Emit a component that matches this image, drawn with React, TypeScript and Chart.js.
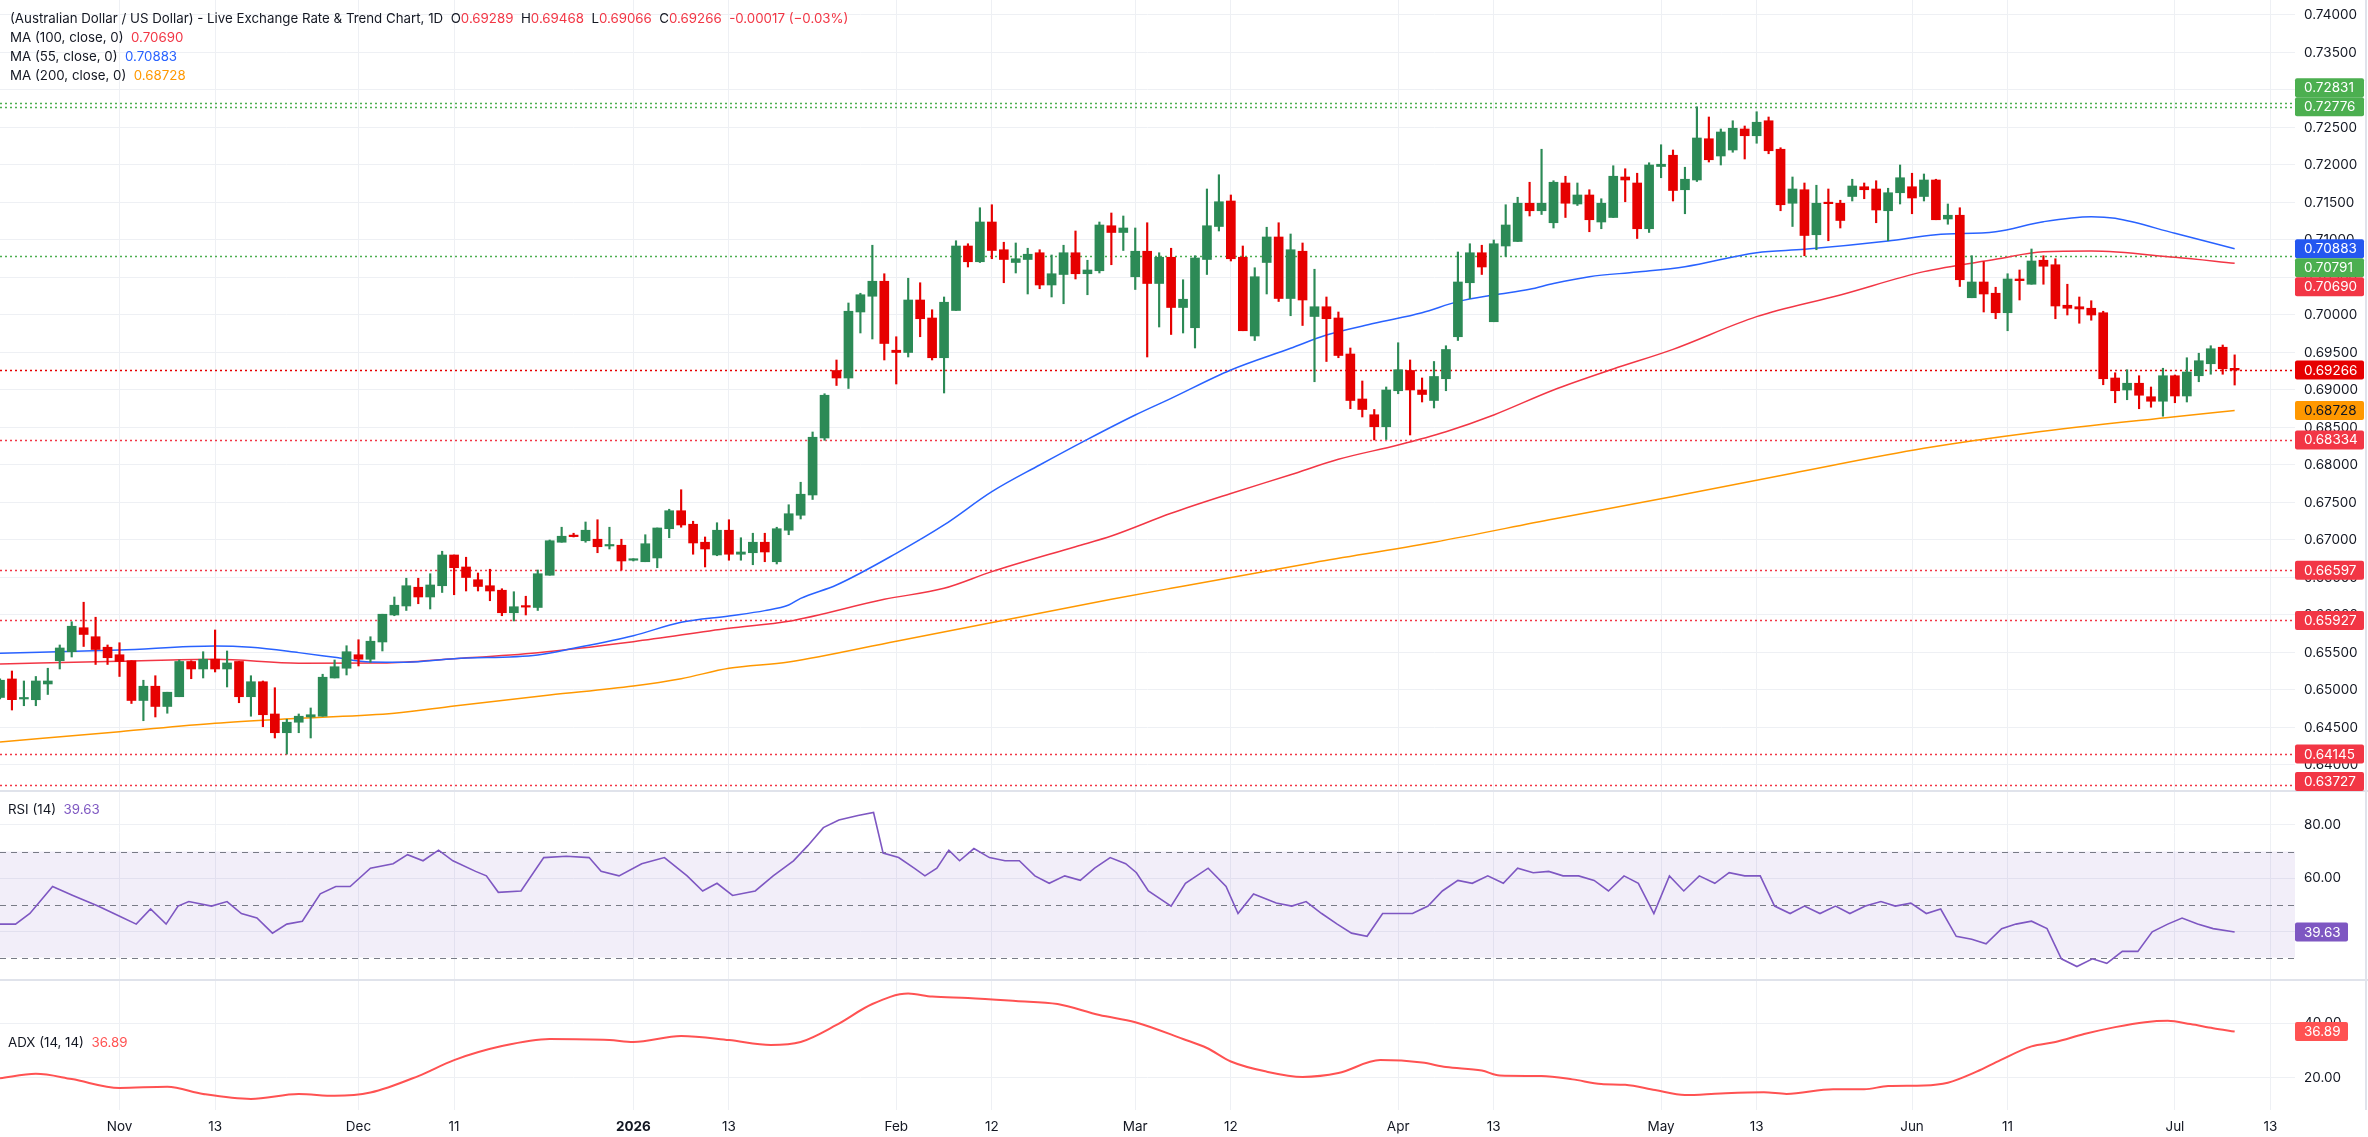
import React, { useEffect, useRef } from 'react';
import { Chart, registerables } from 'chart.js';
Chart.register(...registerables);

// Daily candles, one per weekday, first candle 2025-10-20, last 2026-07-08
const opens = [
  0.6490, 0.65147, 0.6488, 0.6487, 0.6508, 0.6539, 0.6551, 0.6583, 0.6571, 0.6557,
  0.6547, 0.6539, 0.6486, 0.6505, 0.6478, 0.6491, 0.6538, 0.6528, 0.6541, 0.6528,
  0.6538, 0.6491, 0.6511, 0.6468, 0.6443, 0.6457, 0.6464, 0.6465, 0.6516, 0.6529,
  0.6547, 0.6541, 0.6564, 0.6600, 0.6612, 0.6637, 0.6624, 0.6639, 0.6680, 0.6664,
  0.6647, 0.6639, 0.6633, 0.6603, 0.6611, 0.6610, 0.6653, 0.6697, 0.6705, 0.6699,
  0.6701, 0.6692, 0.6693, 0.6673, 0.6671, 0.6676, 0.6715, 0.6739, 0.6721, 0.6697,
  0.6680, 0.6713, 0.6681, 0.6683, 0.6697, 0.6671, 0.6713, 0.6733, 0.6760, 0.6836,
  0.6926, 0.6916, 0.7004, 0.7025, 0.7045, 0.6953, 0.6950, 0.7020, 0.6996, 0.6943,
  0.7006, 0.7092, 0.7071, 0.7124, 0.7087, 0.7070, 0.7074, 0.7083, 0.7040, 0.7054,
  0.7083, 0.7055, 0.7059, 0.7119, 0.7110, 0.7051, 0.7085, 0.7042, 0.7077, 0.7010,
  0.6983, 0.7074, 0.7118, 0.7152, 0.7077, 0.6972, 0.7070, 0.7104, 0.7022, 0.7085,
  0.6998, 0.7011, 0.6996, 0.6948, 0.6888, 0.6867, 0.6851, 0.6899, 0.6926, 0.6900,
  0.6886, 0.6915, 0.6971, 0.7043, 0.7083, 0.6991, 0.7092, 0.7098, 0.7149, 0.7139,
  0.7123, 0.7176, 0.7148, 0.7160, 0.7124, 0.7130, 0.7184, 0.7176, 0.7115, 0.7198,
  0.7213, 0.7167, 0.7180, 0.7235, 0.7212, 0.7220, 0.7248, 0.7239, 0.7259, 0.7221,
  0.7149, 0.7167, 0.7107, 0.7149, 0.7149, 0.7158, 0.7171, 0.7168, 0.7139, 0.7163,
  0.7171, 0.7158, 0.7180, 0.7128, 0.7133, 0.7023, 0.7044, 0.7029, 0.7003, 0.7048,
  0.7041, 0.7073, 0.7067, 0.7013, 0.7011, 0.7009, 0.7003, 0.6916, 0.6900, 0.6909,
  0.6891, 0.6885, 0.6919, 0.6892, 0.6919, 0.6935, 0.6957, 0.69289
];
const highs = [
  0.6515, 0.65253, 0.6512, 0.6518, 0.6529, 0.6560, 0.6591, 0.6617, 0.6597, 0.6560,
  0.6563, 0.6539, 0.6513, 0.6519, 0.6497, 0.6540, 0.6539, 0.6551, 0.6580, 0.6552,
  0.6538, 0.6519, 0.6512, 0.6503, 0.6461, 0.6468, 0.6476, 0.6521, 0.6540, 0.6559,
  0.6567, 0.6571, 0.6601, 0.6624, 0.6649, 0.6649, 0.6655, 0.6685, 0.6680, 0.6677,
  0.6656, 0.6661, 0.6635, 0.6631, 0.6625, 0.6660, 0.6700, 0.6717, 0.6709, 0.6724,
  0.6727, 0.6717, 0.6701, 0.6675, 0.6707, 0.6716, 0.6741, 0.6767, 0.6725, 0.6704,
  0.6723, 0.6727, 0.6703, 0.6709, 0.6709, 0.6717, 0.6747, 0.6777, 0.6844, 0.6895,
  0.6940, 0.7016, 0.7029, 0.7093, 0.7055, 0.6971, 0.7049, 0.7043, 0.7007, 0.7024,
  0.7099, 0.7095, 0.7143, 0.7147, 0.7097, 0.7096, 0.7089, 0.7087, 0.7080, 0.7093,
  0.7112, 0.7073, 0.7124, 0.7136, 0.7132, 0.7116, 0.7123, 0.7083, 0.7089, 0.7047,
  0.7079, 0.7168, 0.7187, 0.7160, 0.7092, 0.7063, 0.7117, 0.7123, 0.7108, 0.7096,
  0.7061, 0.7024, 0.7004, 0.6956, 0.6912, 0.6874, 0.6904, 0.6963, 0.6940, 0.6916,
  0.6938, 0.6959, 0.7084, 0.7095, 0.7093, 0.7100, 0.7147, 0.7157, 0.7177, 0.7221,
  0.7179, 0.7185, 0.7176, 0.7167, 0.7155, 0.7199, 0.7195, 0.7189, 0.7203, 0.7227,
  0.7220, 0.7197, 0.72776, 0.7264, 0.7248, 0.7259, 0.7252, 0.7271, 0.7264, 0.7223,
  0.7184, 0.7176, 0.7173, 0.7168, 0.7153, 0.7181, 0.7176, 0.7179, 0.7169, 0.7200,
  0.7189, 0.7188, 0.7181, 0.7148, 0.7143, 0.7079, 0.7071, 0.7037, 0.7055, 0.7060,
  0.7088, 0.7079, 0.7075, 0.7041, 0.7024, 0.7019, 0.7005, 0.6923, 0.6927, 0.6919,
  0.6904, 0.6929, 0.6920, 0.6943, 0.6949, 0.6959, 0.6960, 0.69468
];
const lows = [
  0.6488, 0.64733, 0.6479, 0.6479, 0.6494, 0.6528, 0.6544, 0.6558, 0.6534, 0.6534,
  0.6518, 0.6482, 0.6459, 0.6464, 0.6469, 0.6491, 0.6515, 0.6516, 0.6524, 0.6504,
  0.6483, 0.6465, 0.6451, 0.6436, 0.64145, 0.6443, 0.6436, 0.6465, 0.6516, 0.6520,
  0.6532, 0.6537, 0.6552, 0.6599, 0.6606, 0.6615, 0.6608, 0.6630, 0.6627, 0.6632,
  0.6632, 0.6619, 0.6599, 0.6592, 0.6600, 0.6606, 0.6653, 0.6697, 0.6704, 0.6697,
  0.6683, 0.6688, 0.6660, 0.6672, 0.6671, 0.6663, 0.6703, 0.6717, 0.6681, 0.6664,
  0.6679, 0.6673, 0.6673, 0.6667, 0.6671, 0.6668, 0.6707, 0.6728, 0.6754, 0.6833,
  0.6906, 0.6902, 0.6976, 0.6968, 0.6940, 0.6908, 0.6944, 0.6971, 0.6940, 0.6896,
  0.7006, 0.7064, 0.7070, 0.7075, 0.7043, 0.7056, 0.7028, 0.7035, 0.7024, 0.7015,
  0.7048, 0.7027, 0.7056, 0.7067, 0.7086, 0.7034, 0.6944, 0.6984, 0.6974, 0.6976,
  0.6956, 0.7054, 0.7112, 0.7072, 0.6979, 0.6966, 0.7028, 0.7018, 0.6999, 0.6986,
  0.6911, 0.6938, 0.6943, 0.6875, 0.6864, 0.68334, 0.6834, 0.6895, 0.6840, 0.6884,
  0.6876, 0.6899, 0.6966, 0.7022, 0.7054, 0.6991, 0.7078, 0.7098, 0.7132, 0.7134,
  0.7116, 0.7130, 0.7146, 0.7111, 0.7115, 0.7130, 0.7151, 0.7102, 0.7110, 0.7183,
  0.7152, 0.7135, 0.7178, 0.7204, 0.7200, 0.7217, 0.7208, 0.7229, 0.7215, 0.7139,
  0.7118, 0.7079, 0.7087, 0.7099, 0.7116, 0.7152, 0.7155, 0.7123, 0.7099, 0.7148,
  0.7135, 0.7152, 0.7127, 0.7121, 0.7038, 0.7023, 0.7004, 0.6995, 0.6979, 0.7020,
  0.7041, 0.7041, 0.6995, 0.7000, 0.6989, 0.6993, 0.6907, 0.6883, 0.6887, 0.6875,
  0.6877, 0.6865, 0.6883, 0.6884, 0.6911, 0.6921, 0.6921, 0.69066
];
const closes = [
  0.6513, 0.64871, 0.6489, 0.6512, 0.6512, 0.6556, 0.6585, 0.6574, 0.6554, 0.6543,
  0.6538, 0.6486, 0.6505, 0.6478, 0.6497, 0.6538, 0.6528, 0.6541, 0.6528, 0.6536,
  0.6491, 0.6511, 0.6467, 0.6443, 0.6457, 0.6465, 0.6467, 0.6517, 0.6531, 0.6551,
  0.6541, 0.6565, 0.6601, 0.6613, 0.6639, 0.6624, 0.6640, 0.6680, 0.6663, 0.6650,
  0.6638, 0.6632, 0.6603, 0.6611, 0.66105, 0.6655, 0.6699, 0.6705, 0.67045, 0.6713,
  0.6691, 0.6693, 0.6672, 0.6674, 0.6695, 0.6716, 0.6739, 0.6720, 0.6696, 0.6688,
  0.6713, 0.6681, 0.6684, 0.6697, 0.6684, 0.6715, 0.6735, 0.6761, 0.6837, 0.6893,
  0.6916, 0.7005, 0.7027, 0.7045, 0.6962, 0.6950, 0.7020, 0.6995, 0.6943, 0.7017,
  0.7092, 0.7071, 0.7124, 0.7086, 0.7074, 0.7075, 0.7081, 0.7040, 0.7055, 0.7083,
  0.7055, 0.7060, 0.7120, 0.7110, 0.7116, 0.7085, 0.7042, 0.7077, 0.7010, 0.7021,
  0.7076, 0.7119, 0.7151, 0.7075, 0.6979, 0.7051, 0.7104, 0.7022, 0.7087, 0.7020,
  0.7011, 0.6995, 0.6946, 0.6886, 0.6874, 0.6851, 0.6900, 0.6927, 0.6900, 0.6894,
  0.6918, 0.6954, 0.7044, 0.7083, 0.7064, 0.7095, 0.7120, 0.7149, 0.7139, 0.7149,
  0.7177, 0.7149, 0.7160, 0.7127, 0.7149, 0.7185, 0.7180, 0.7115, 0.7200, 0.7201,
  0.7166, 0.7181, 0.7236, 0.7207, 0.7244, 0.7249, 0.7239, 0.7257, 0.7219, 0.7147,
  0.7168, 0.7106, 0.7149, 0.71484, 0.7126, 0.7172, 0.7167, 0.7140, 0.7163, 0.7183,
  0.7156, 0.7180, 0.7127, 0.7133, 0.7047, 0.7044, 0.7028, 0.7003, 0.7048, 0.70458,
  0.7072, 0.7065, 0.7012, 0.7009, 0.7008, 0.7000, 0.6915, 0.6899, 0.6909, 0.6893,
  0.6885, 0.6919, 0.6892, 0.6924, 0.6939, 0.6955, 0.69283, 0.69266
];

// Moving averages: [candle index, value]
const ma55Pts = [
  [0, 0.65489], [10, 0.65533], [18, 0.65587], [21, 0.65569], [25, 0.65498], [28, 0.65436],
  [31, 0.65373], [34, 0.6537], [38, 0.65418], [45, 0.65467], [48, 0.65556], [53, 0.65724],
  [57, 0.65902], [61, 0.65987], [64, 0.66058], [66, 0.66133], [67, 0.66222], [70, 0.664],
  [75, 0.66822], [79, 0.672], [83, 0.67644], [87, 0.68], [91, 0.68342], [95, 0.68667],
  [98, 0.68889], [103, 0.69267], [108, 0.69556], [111, 0.69733], [115, 0.69889], [119, 0.70031],
  [122, 0.70178], [125, 0.70267], [128, 0.70342], [130, 0.7042], [133, 0.70511], [137, 0.70573],
  [141, 0.70644], [147, 0.70831], [151, 0.70876], [158, 0.70987], [162, 0.7107], [167, 0.71111],
  [171, 0.71244], [175, 0.71311], [177, 0.71289], [182, 0.71089], [187, 0.70883]
];
const ma100Pts = [
  [0, 0.65347], [10, 0.65382], [18, 0.65409], [25, 0.65356], [32, 0.6536], [38, 0.65418],
  [45, 0.65498], [53, 0.65644], [61, 0.65822], [66, 0.65916], [74, 0.66209], [79, 0.66356],
  [83, 0.66578], [90, 0.66911], [93, 0.67053], [98, 0.67356], [103, 0.6762], [108, 0.6787],
  [112, 0.68076], [117, 0.68267], [121, 0.68444], [125, 0.68667], [130, 0.69], [135, 0.6928],
  [140, 0.69542], [147, 0.69978], [154, 0.70267], [161, 0.70578], [167, 0.70742], [171, 0.70844],
  [175, 0.70853], [182, 0.70769], [187, 0.7069]
];
const ma200Pts = [
  [0, 0.64307], [10, 0.64444], [18, 0.64556], [25, 0.64622], [33, 0.6469], [38, 0.64787],
  [46, 0.64933], [53, 0.65053], [57, 0.65151], [61, 0.65289], [66, 0.65373], [75, 0.6565],
  [84, 0.6593], [93, 0.66209], [98, 0.66356], [110, 0.667], [120, 0.6697], [130, 0.6728],
  [140, 0.6758], [150, 0.6789], [161, 0.68222], [170, 0.6843], [182, 0.68644], [187, 0.68728]
];

const rsiPts = [
  [0, 42.6], [1.3, 42.6], [2.5, 46.6], [4.4, 56.8], [6.1, 53.4], [8.2, 49.4], [10.1, 45.4],
  [11.4, 42.6], [12.6, 48.3], [13.9, 42.6], [14.9, 49.4], [15.8, 51.1], [17.7, 49.4], [19, 51.1],
  [20.2, 46.6], [21.5, 44.9], [22.8, 39.2], [24, 42.6], [25.3, 43.7], [26.8, 54], [28.1, 56.8],
  [29.3, 56.8], [31, 63.7], [32.9, 65.4], [34.1, 68.8], [35.4, 66.5], [36.7, 70.5], [37.9, 66.5],
  [39.8, 62.5], [40.7, 60.8], [41.7, 54.6], [43.6, 55.1], [45.5, 67.7], [47.4, 68.2], [49.3, 67.7],
  [50.3, 62.5], [51.8, 60.8], [53.7, 65.4], [55.6, 67.7], [57.5, 60.8], [58.8, 55.1], [60, 58],
  [61.3, 53.4], [63.2, 55.1], [64.7, 60.8], [66.4, 66.5], [67.6, 72.2], [68.9, 79], [70.2, 81.9],
  [71.8, 83.6], [73.1, 84.7], [73.9, 69.4], [75.2, 67.7], [76.5, 63.7], [77.4, 60.8], [78.4, 63.7],
  [79.4, 70.5], [80.3, 66.5], [81.5, 71.1], [82.8, 67.7], [84.1, 66.5], [85.3, 66.5], [86.6, 60.8],
  [87.8, 58], [89.1, 60.8], [90.4, 59.1], [91.6, 63.7], [92.9, 67.7], [94.2, 65.4], [95.1, 62],
  [96.1, 55.1], [98, 49.4], [99.2, 58], [101.1, 63.7], [102.6, 56.8], [103.6, 46.6], [104.9, 54],
  [106.8, 50.6], [108.1, 49.4], [109.3, 51.1], [110.6, 46.6], [111.9, 42.6], [113.1, 39.2],
  [114.4, 38], [115.7, 46.6], [116.9, 46.6], [118.2, 46.6], [119.5, 49.4], [120.7, 55.1],
  [122, 59.1], [123.2, 58], [124.5, 60.8], [125.8, 58], [127, 63.7], [128.3, 62], [129.6, 62.5],
  [130.8, 60.8], [132.1, 60.8], [133.4, 59.1], [134.6, 55.1], [135.9, 60.8], [137.1, 58],
  [138.4, 46.6], [139.7, 60.8], [140.9, 55.1], [142.2, 60.8], [143.5, 58], [144.7, 62],
  [146, 60.8], [147.3, 60.8], [148.5, 49.4], [149.8, 46.6], [151, 49.4], [152.3, 46.6],
  [153.6, 49.4], [154.8, 46.6], [156.1, 49.4], [157.4, 51.1], [158.6, 49.4], [159.9, 50.5],
  [161.2, 46.6], [162.4, 48.3], [163.7, 38], [165, 36.9], [166.2, 35.2], [167.5, 40.9],
  [168.7, 42.6], [170, 43.7], [171.3, 40.9], [172.5, 29.5], [173.8, 26.6], [175.1, 29.5],
  [176.3, 27.8], [177.6, 32.3], [178.9, 32.3], [180.1, 39.7], [181.4, 42.6], [182.6, 44.9],
  [183.9, 42.6], [185.2, 40.9], [187, 39.63]
];

const adxPts = [
  [0, 19.9], [3, 21.5], [6, 19.6], [10, 16.4], [14, 16.8], [17, 14.2], [21, 12.4], [25, 14.2],
  [28, 13.5], [31, 14.7], [35, 20.7], [38, 26.5], [42, 31.6], [46, 34.2], [51, 33.8], [53, 33.1],
  [57, 35.3], [61, 33.8], [64.5, 32], [67, 33.1], [70, 39.3], [73, 46.9], [76, 50.7], [78, 49.6],
  [81, 49.1], [85, 48], [88.5, 46.9], [92, 42.9], [95, 40.3], [99, 34.2], [101, 30.9], [103, 26],
  [106, 22.3], [109, 20.4], [112, 21.8], [115.5, 26.5], [119, 25.6], [121, 24], [124, 22.7],
  [125.5, 20.9], [129, 20.7], [131.6, 19.5], [134, 17.8], [136, 17.5], [138.5, 15.6], [141, 13.8],
  [144, 14.4], [147.6, 14.8], [149.5, 14.2], [153.4, 15.9], [156, 15.9], [158, 17.1], [161, 17.3],
  [163, 18.3], [165.4, 22.3], [167.4, 26.5], [170, 31.5], [172, 33.1], [174.4, 36], [177, 38.5],
  [179.5, 40.3], [181.4, 40.8], [183.3, 39.6], [185.2, 38.1], [187, 36.89]
];

// x-axis ticks (candle index) and their labels
const tickPos = [10, 18, 30, 38, 53, 61, 75, 83, 95, 103, 117, 125, 139, 147, 160, 168, 182, 190];
const tickText = ['Nov', '13', 'Dec', '11', '2026', '13', 'Feb', '12', 'Mar', '12', 'Apr', '13', 'May', '13', 'Jun', '11', 'Jul', '13'];
const priceTicks = [0.64, 0.645, 0.65, 0.655, 0.66, 0.665, 0.67, 0.675, 0.68, 0.685, 0.69, 0.695, 0.7, 0.705, 0.71, 0.715, 0.72, 0.725, 0.73, 0.735, 0.74];
const rsiTicks = [40, 60, 80];
const adxTicks = [20, 40];
const rsiBand = [70, 50, 30];

// right-axis markers (in placement priority order)
const markerValues = [0.69266, 0.72776, 0.72831, 0.70883, 0.70791, 0.7069, 0.68728, 0.68334, 0.66597, 0.65927, 0.64145, 0.63727];
const markerKinds = ['last', 'up', 'up', 'ma55', 'up', 'ma100', 'ma200', 'down', 'down', 'down', 'down', 'down'];
const rsiLast = 39.63;
const adxLast = 36.89;

const header = {
  title: '(Australian Dollar / US Dollar) - Live Exchange Rate & Trend Chart, 1D',
  o: '0.69289', h: '0.69468', l: '0.69066', c: '0.69266', chg: '-0.00017 (\u22120.03%)'
};

const FONT = 'Inter, "Noto Sans", sans-serif';
const GREEN = '#2c8a56';
const RED = '#e60000';
const TXT = '#131722';
const GRID = '#eef0f4';

const kindStyle: Record<string, { bg: string; fg: string; line: string | null }> = {
  last: { bg: '#e60000', fg: '#ffffff', line: '#e60000' },
  up: { bg: '#4caf50', fg: '#ffffff', line: '#4caf50' },
  down: { bg: '#f23645', fg: '#ffffff', line: '#f23645' },
  ma55: { bg: '#2457f0', fg: '#ffffff', line: null },
  ma100: { bg: '#f23645', fg: '#ffffff', line: null },
  ma200: { bg: '#ff9800', fg: '#131722', line: null },
};

function box(ctx: CanvasRenderingContext2D, left: number, cy: number, w: number, text: string, bg: string, fg: string) {
  const H = 19;
  ctx.fillStyle = bg;
  ctx.beginPath();
  (ctx as any).roundRect(left, cy - H / 2, w, H, 2);
  ctx.fill();
  ctx.fillStyle = fg;
  ctx.fillText(text, left + 9, cy + 0.5);
}

const overlayPlugin = {
  id: 'overlay',
  beforeDatasetsDraw(chart: any) {
    const { ctx, chartArea, scales } = chart;
    const L = chartArea.left, R = chartArea.right;
    ctx.save();
    // RSI band
    const r = scales.rsi;
    const yTop = r.getPixelForValue(rsiBand[0]);
    const yBot = r.getPixelForValue(rsiBand[2]);
    ctx.fillStyle = 'rgba(126, 87, 194, 0.1)';
    ctx.fillRect(L, yTop, R - L, yBot - yTop);
    ctx.strokeStyle = '#787b86';
    ctx.lineWidth = 1;
    ctx.setLineDash([6, 5]);
    for (const v of rsiBand) {
      const yy = Math.round(r.getPixelForValue(v)) + 0.5;
      ctx.beginPath(); ctx.moveTo(L, yy); ctx.lineTo(R, yy); ctx.stroke();
    }
    // dotted levels
    ctx.setLineDash([2, 3]);
    ctx.lineWidth = 1.3;
    markerValues.forEach((v, i) => {
      const st = kindStyle[markerKinds[i]];
      if (!st.line) return;
      const yy = Math.round(scales.y.getPixelForValue(v)) + 0.5;
      ctx.strokeStyle = st.line;
      ctx.beginPath(); ctx.moveTo(L, yy); ctx.lineTo(R, yy); ctx.stroke();
    });
    ctx.restore();
  },
  afterDraw(chart: any) {
    const { ctx, chartArea, scales, width } = chart;
    const py = scales.y;
    ctx.save();
    // panel separators
    ctx.strokeStyle = '#e0e3eb';
    ctx.lineWidth = 2;
    for (const s of [scales.y, scales.rsi]) {
      const yy = Math.round(s.bottom);
      ctx.beginPath(); ctx.moveTo(0, yy); ctx.lineTo(width, yy); ctx.stroke();
    }
    ctx.beginPath(); ctx.moveTo(width - 2, 0); ctx.lineTo(width - 2, scales.x.top); ctx.stroke();
    // markers
    ctx.font = `13.5px ${FONT}`;
    ctx.textBaseline = 'middle';
    const H = 19;
    const placed: number[] = [];
    markerValues.forEach((v, i) => {
      let c = py.getPixelForValue(v);
      c = Math.min(Math.max(c, py.top + H / 2), py.bottom - H / 2);
      for (let k = 0; k < 6; k++) {
        const hit = placed.find((p) => Math.abs(p - c) < H - 0.01);
        if (hit === undefined) break;
        c = c < hit ? hit - H : hit + H;
      }
      placed.push(c);
      const st = kindStyle[markerKinds[i]];
      box(ctx, chartArea.right, c, 69, v.toFixed(5), st.bg, st.fg);
    });
    box(ctx, chartArea.right, scales.rsi.getPixelForValue(rsiLast), 53, rsiLast.toFixed(2), '#7e57c2', '#ffffff');
    box(ctx, chartArea.right, scales.adx.getPixelForValue(adxLast), 53, adxLast.toFixed(2), '#ff5252', '#ffffff');
    ctx.restore();
  },
};

const fixY = (s: any) => { s.width = 73; s.paddingTop = 0; s.paddingBottom = 0; };

export default function App() {
  const ref = useRef<HTMLCanvasElement | null>(null);
  useEffect(() => {
    document.body.style.margin = '0';
    const canvas = ref.current;
    if (!canvas) return;
    const idx = closes.map((_, i) => i);
    const colors = idx.map((i) => (closes[i] >= opens[i] ? GREEN : RED));
    const pts = (arr: number[][]) => arr.map(([x, y]) => ({ x, y }));
    const yScale = (min: number, max: number, weight: number, ticks: number[], digits: number) => ({
      type: 'linear', position: 'right', stack: 'panes', stackWeight: weight, min, max, offset: false,
      afterBuildTicks: (s: any) => { s.ticks = ticks.map((v) => ({ value: v })); },
      afterFit: fixY,
      ticks: { callback: (v: any) => Number(v).toFixed(digits), color: TXT, padding: 9, font: { family: FONT, size: 13.5 } },
      grid: { color: GRID, drawTicks: false },
      border: { display: false },
    });
    const chart = new Chart(canvas, {
      type: 'bar',
      data: {
        datasets: [
          { type: 'bar', label: 'body', data: idx.map((i) => ({ x: i, y: [opens[i], closes[i]] })) as any, backgroundColor: colors, barThickness: 9, minBarLength: 1.5, grouped: false, yAxisID: 'y', order: 0 },
          { type: 'bar', label: 'wick', data: idx.map((i) => ({ x: i, y: [lows[i], highs[i]] })) as any, backgroundColor: colors, barThickness: 1.5, grouped: false, yAxisID: 'y', order: 1 },
          { type: 'line', label: 'MA55', data: pts(ma55Pts) as any, borderColor: '#2962ff', borderWidth: 1.5, pointRadius: 0, cubicInterpolationMode: 'monotone', yAxisID: 'y', order: 2 },
          { type: 'line', label: 'MA100', data: pts(ma100Pts) as any, borderColor: '#f23645', borderWidth: 1.5, pointRadius: 0, cubicInterpolationMode: 'monotone', yAxisID: 'y', order: 3 },
          { type: 'line', label: 'MA200', data: pts(ma200Pts) as any, borderColor: '#ff9800', borderWidth: 1.5, pointRadius: 0, cubicInterpolationMode: 'monotone', yAxisID: 'y', order: 4 },
          { type: 'line', label: 'RSI', data: pts(rsiPts) as any, borderColor: '#7e57c2', borderWidth: 1.6, pointRadius: 0, tension: 0, yAxisID: 'rsi', order: 5 },
          { type: 'line', label: 'ADX', data: pts(adxPts) as any, borderColor: '#ff5252', borderWidth: 2, pointRadius: 0, cubicInterpolationMode: 'monotone', yAxisID: 'adx', order: 6 },
        ] as any,
      },
      options: {
        responsive: false,
        animation: false,
        events: [],
        layout: { padding: 0 },
        plugins: { legend: { display: false }, tooltip: { enabled: false } },
        scales: {
          x: {
            type: 'linear', min: 0, max: 192.05, offset: false,
            afterBuildTicks: (s: any) => { s.ticks = tickPos.map((v) => ({ value: v })); },
            afterFit: (s: any) => { s.height = 27; s.paddingLeft = 0; s.paddingRight = 0; },
            ticks: {
              autoSkip: false, maxRotation: 0, padding: 9, color: TXT,
              callback: (v: any) => { const k = tickPos.indexOf(Number(v)); return k >= 0 ? tickText[k] : ''; },
              font: (c: any) => ({ family: FONT, size: 13.5, weight: c.tick && tickText[tickPos.indexOf(c.tick.value)] === '2026' ? 'bold' : 'normal' }),
            },
            grid: { color: GRID, drawTicks: false, offset: false },
            border: { display: false },
          },
          y: yScale(0.63653, 0.742, 791, priceTicks, 5),
          rsi: yScale(21.51, 92.83, 189, rsiTicks, 2),
          adx: yScale(8.36, 55.64, 130, adxTicks, 2),
        } as any,
      },
      plugins: [overlayPlugin],
    });
    return () => chart.destroy();
  }, []);

  const red = { color: '#f23645' };
  const line: React.CSSProperties = { height: 19, lineHeight: '19px', whiteSpace: 'pre' };
  return (
    <div style={{ position: 'fixed', left: 0, top: 0, width: 2368, height: 1137, background: '#ffffff', overflow: 'hidden' }}>
      <canvas ref={ref} width={2368} height={1137} style={{ display: 'block', width: 2368, height: 1137 }} />
      <div style={{ position: 'absolute', left: 10, top: 8.5, font: `13.3px ${FONT}`, color: TXT, pointerEvents: 'none' }}>
        <div style={line}>
          {header.title}{'  O'}<span style={red}>{header.o}</span>{'  H'}<span style={red}>{header.h}</span>
          {'  L'}<span style={red}>{header.l}</span>{'  C'}<span style={red}>{header.c}</span>{'  '}<span style={red}>{header.chg}</span>
        </div>
        <div style={line}>{'MA (100, close, 0)  '}<span style={{ color: '#f23645' }}>0.70690</span></div>
        <div style={line}>{'MA (55, close, 0)  '}<span style={{ color: '#2962ff' }}>0.70883</span></div>
        <div style={line}>{'MA (200, close, 0)  '}<span style={{ color: '#ff9800' }}>0.68728</span></div>
      </div>
      <div style={{ position: 'absolute', left: 8, top: 799.5, font: `13.3px ${FONT}`, color: TXT, ...line }}>
        {'RSI (14)  '}<span style={{ color: '#7e57c2' }}>{rsiLast.toFixed(2)}</span>
      </div>
      <div style={{ position: 'absolute', left: 8, top: 1032.5, font: `13.3px ${FONT}`, color: TXT, ...line }}>
        {'ADX (14, 14)  '}<span style={{ color: '#ff5252' }}>{adxLast.toFixed(2)}</span>
      </div>
    </div>
  );
}
